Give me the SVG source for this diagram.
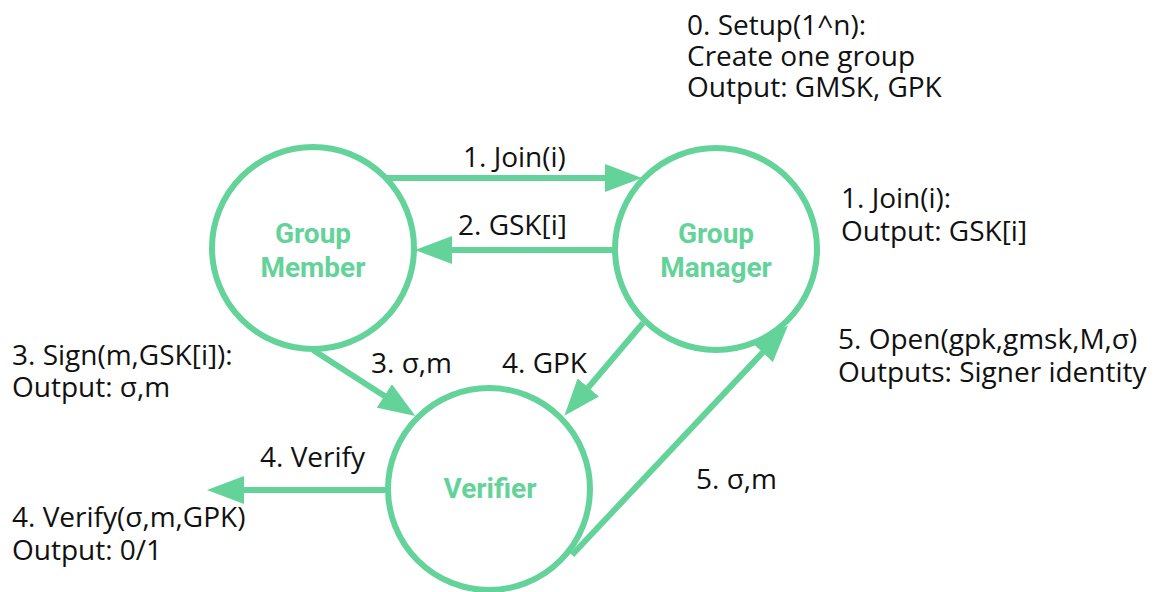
<svg xmlns="http://www.w3.org/2000/svg" width="1160" height="592" viewBox="0 0 1160 592">
  <style>
    .node { fill: #ffffff; stroke: #64D399; stroke-width: 6; }
    .name { font-family: Roboto, "Liberation Sans", sans-serif; font-weight: 700; font-size: 28px; fill: #64D399; text-anchor: middle; }
    .edge { stroke: #64D399; stroke-width: 6; fill: none; marker-end: url(#head); }
    .txt { font-family: "Open Sans", "DejaVu Sans", sans-serif; font-size: 28px; fill: #111111; }
  </style>
  <defs>
    <marker id="head" markerUnits="userSpaceOnUse" markerWidth="38" markerHeight="28" viewBox="0 0 38 28" refX="2" refY="14" orient="auto">
      <path d="M0,0 L37,14 L0,28 Z" fill="#64D399"/>
    </marker>
  </defs>
  <rect width="1160" height="592" fill="#ffffff"/>

  <!-- connectors -->
  <g id="connectors">
    <line class="edge" x1="385" y1="178" x2="607" y2="178"/>
    <line class="edge" x1="614" y1="250" x2="450" y2="250"/>
    <line class="edge" x1="313" y1="350" x2="386" y2="397"/>
    <line class="edge" x1="643" y1="323" x2="587" y2="389"/>
    <line class="edge" x1="388" y1="490" x2="242" y2="490"/>
    <line class="edge" x1="572" y1="555" x2="764" y2="351"/>
  </g>

  <!-- nodes -->
  <g id="group-member">
    <circle class="node" cx="313" cy="248" r="101"/>
    <text class="name" x="313" y="243">Group</text>
    <text class="name" x="313" y="277">Member</text>
  </g>
  <g id="group-manager">
    <circle class="node" cx="716" cy="249" r="101"/>
    <text class="name" x="716" y="243">Group</text>
    <text class="name" x="716" y="277">Manager</text>
  </g>
  <g id="verifier">
    <circle class="node" cx="489" cy="489" r="101"/>
    <text class="name" x="490" y="498">Verifier</text>
  </g>

  <!-- connector labels -->
  <g id="edge-labels">
    <text class="txt" x="463" y="167">1. Join(i)</text>
    <text class="txt" x="458" y="235">2. GSK[i]</text>
    <text class="txt" x="371" y="373">3. σ,m</text>
    <text class="txt" x="502" y="373">4. GPK</text>
    <text class="txt" x="260" y="467">4. Verify</text>
    <text class="txt" x="696" y="489">5. σ,m</text>
  </g>

  <!-- step descriptions -->
  <g id="notes">
    <text class="txt" x="687" y="35">0. Setup(1^n):</text>
    <text class="txt" x="687" y="66">Create one group</text>
    <text class="txt" x="687" y="97">Output: GMSK, GPK</text>
    <text class="txt" x="841" y="208">1. Join(i):</text>
    <text class="txt" x="841" y="241">Output: GSK[i]</text>
    <text class="txt" x="838" y="349">5. Open(gpk,gmsk,M,σ)</text>
    <text class="txt" x="838" y="382">Outputs: Signer identity</text>
    <text class="txt" x="12" y="365">3. Sign(m,GSK[i]):</text>
    <text class="txt" x="12" y="397">Output: σ,m</text>
    <text class="txt" x="12" y="527">4. Verify(σ,m,GPK)</text>
    <text class="txt" x="12" y="560">Output: 0/1</text>
  </g>
</svg>
